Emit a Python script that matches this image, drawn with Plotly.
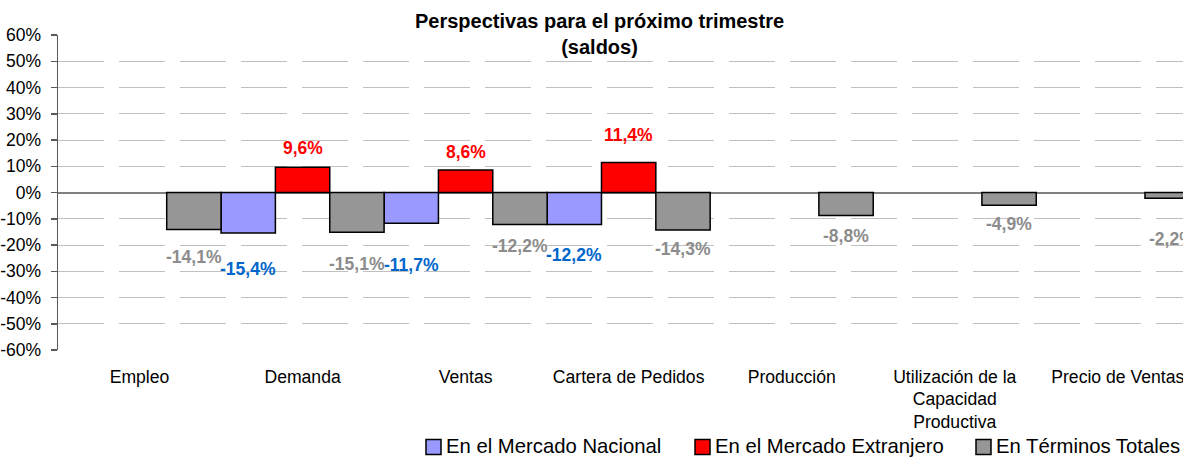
import plotly.graph_objects as go

categories = ["Empleo", "Demanda", "Ventas", "Cartera de Pedidos", "Producción",
              "Utilización de la<br>Capacidad<br>Productiva", "Precio de Ventas"]
nacional = [None, -15.4, -11.7, -12.2, None, None, None]
extranjero = [None, 9.6, 8.6, 11.4, None, None, None]
totales = [-14.1, -15.1, -12.2, -14.3, -8.8, -4.9, -2.2]
series_names = ["En el Mercado Nacional", "En el Mercado Extranjero", "En Términos Totales"]
ytick_vals = [60, 50, 40, 30, 20, 10, 0, -10, -20, -30, -40, -50, -60]
ytick_text = ["60%", "50%", "40%", "30%", "20%", "10%", "0%", "-10%", "-20%", "-30%",
              "-40%", "-50%", "-60%"]
title_text = "<b>Perspectivas para el próximo trimestre<br>(saldos)</b>"

# ---- styling / layout ----
W, H = 1183, 457
ML, MT, MB = 58, 35, 107
PW, PH = W - ML, H - MT - MB
bar_colors = ["#9999FF", "#FF0000", "#969696"]
label_colors = ["#0066CC", "#FF0000", "#8C8C8C"]
# pixel distance of each value label from its bar end (manual label placement)
label_gap = [
    [0, 36, 42, 30, 0, 0, 0],
    [0, 19, 18, 28, 0, 0, 0],
    [27, 32, 21, 19, 20, 19, 41],
]
legend_swatch_left = [426, 695, 976]   # pixel x of legend swatches
legend_center_y = 446
FONT = "Liberation Sans, Arial, sans-serif"


def px_x(p):
    return (p - ML) / PW


def px_y(p):
    return (H - MB - p) / PH


fig = go.Figure()
all_series = [nacional, extranjero, totales]
for j, vals in enumerate(all_series):
    fig.add_trace(go.Bar(
        x=categories, y=vals, name=series_names[j],
        marker=dict(color=bar_colors[j], line=dict(color="#000000", width=1.5)),
        hoverinfo="skip",
    ))

annotations = []
for j, vals in enumerate(all_series):
    for i, v in enumerate(vals):
        if v is None:
            continue
        txt = f"{v:.1f}".replace(".", ",") + "%"
        gap = label_gap[j][i]
        annotations.append(dict(
            x=i + (j - 1) / 3, y=v, xref="x", yref="y",
            text=f"<b>{txt}</b>", showarrow=False,
            yshift=gap if v > 0 else -gap, yanchor="middle", xanchor="center",
            font=dict(family=FONT, size=17.5, color=label_colors[j]),
        ))

# title
annotations.append(dict(
    x=px_x(599), y=px_y(8), xref="paper", yref="paper", xanchor="center", yanchor="top",
    text=title_text, showarrow=False, align="center",
    font=dict(family=FONT, size=20, color="#000000"),
))

# manual legend
shapes = []
sw = 15
for j, name in enumerate(series_names):
    x0 = legend_swatch_left[j]
    shapes.append(dict(
        type="rect", xref="paper", yref="paper",
        x0=px_x(x0), x1=px_x(x0 + sw),
        y0=px_y(legend_center_y + 1 + sw / 2), y1=px_y(legend_center_y + 1 - sw / 2),
        fillcolor=bar_colors[j], line=dict(color="#000000", width=1.5),
    ))
    annotations.append(dict(
        x=px_x(x0 + sw + 3), y=px_y(legend_center_y), xref="paper", yref="paper",
        xanchor="left", yanchor="middle", text=name, showarrow=False,
        font=dict(family=FONT, size=20.3, color="#000000"),
    ))

fig.update_layout(
    width=W, height=H,
    margin=dict(l=ML, r=0, t=MT, b=MB, autoexpand=False),
    paper_bgcolor="white", plot_bgcolor="white",
    barmode="group", bargap=0, bargroupgap=0,
    font=dict(family=FONT, size=17.5, color="#000000"),
    showlegend=False,
    annotations=annotations,
    shapes=shapes,
)
fig.update_xaxes(
    type="category", range=[-0.5, 6.4], showgrid=False, zeroline=False,
    showline=False, ticks="", ticklabelstandoff=14,
    tickfont=dict(family=FONT, size=17.6, color="#000000"), automargin=False,
)
fig.update_yaxes(
    range=[-60, 60], tickvals=ytick_vals, ticktext=ytick_text,
    showgrid=True, gridcolor="#C0C0C0", gridwidth=1, griddash="46px,15px",
    zeroline=True, zerolinecolor="#808080", zerolinewidth=2,
    showline=True, linecolor="#595959", linewidth=1.5,
    ticks="outside", ticklen=6, tickcolor="#595959", tickwidth=1.5,
    ticklabelstandoff=6,
    tickfont=dict(family=FONT, size=17.5, color="#000000"), automargin=False,
)

fig.write_html(
    "out.html",
    config={"displayModeBar": False, "staticPlot": True},
    post_script="document.body.style.margin='0';document.body.style.overflow='hidden';",
)
